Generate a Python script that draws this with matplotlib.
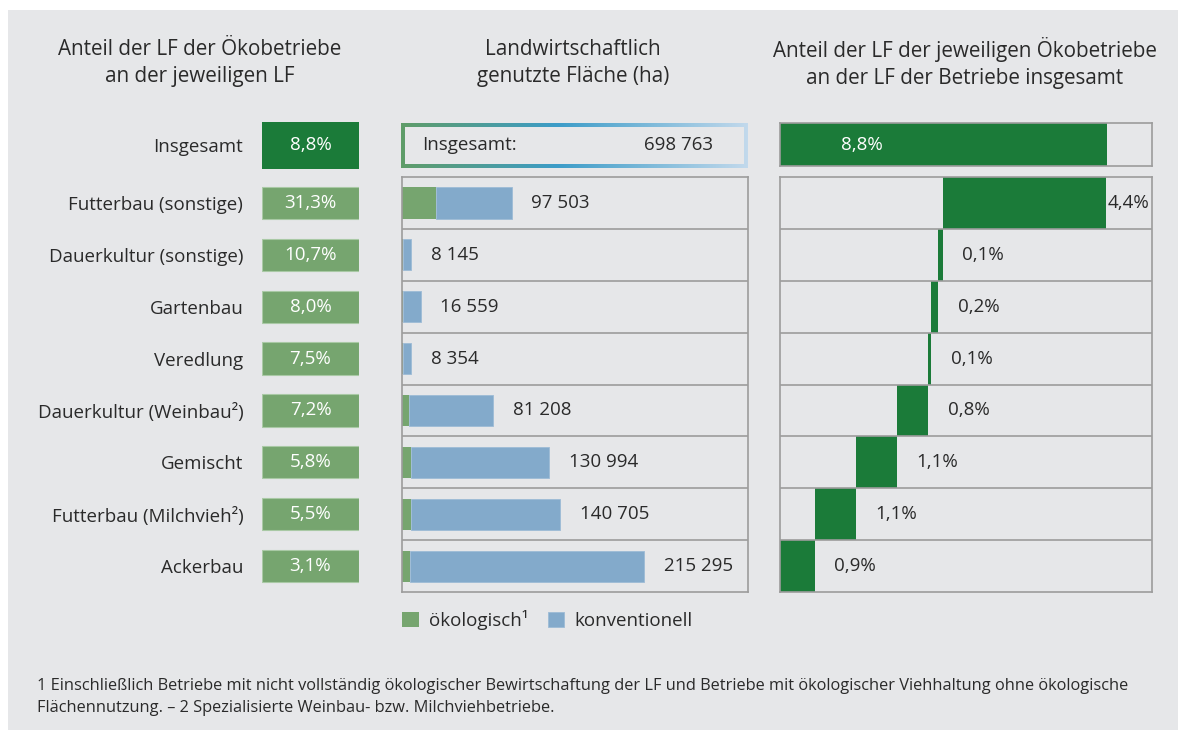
import matplotlib
matplotlib.use("Agg")
import matplotlib.pyplot as plt
import numpy as np
from matplotlib.patches import Rectangle
from matplotlib.colors import LinearSegmentedColormap

# ---------------- data ----------------
categories = ["Futterbau (sonstige)", "Dauerkultur (sonstige)", "Gartenbau", "Veredlung",
              "Dauerkultur (Weinbau²)", "Gemischt", "Futterbau (Milchvieh²)", "Ackerbau"]
eco_share_pct = [31.3, 10.7, 8.0, 7.5, 7.2, 5.8, 5.5, 3.1]          # left column
total_ha = [97503, 8145, 16559, 8354, 81208, 130994, 140705, 215295]  # middle column
share_of_total_pct = [4.37, 0.12, 0.19, 0.09, 0.84, 1.09, 1.11, 0.94]  # right column
total_label = "Insgesamt"
total_eco_pct = 8.8
total_area_ha = 698763
legend_labels = ["ökologisch¹", "konventionell"]
titles = ["Anteil der LF der Ökobetriebe\nan der jeweiligen LF",
          "Landwirtschaftlich\ngenutzte Fläche (ha)",
          "Anteil der LF der jeweiligen Ökobetriebe\nan der LF der Betriebe insgesamt"]
footnote = ("1 Einschließlich Betriebe mit nicht vollständig ökologischer Bewirtschaftung der LF und "
            "Betriebe mit ökologischer Viehhaltung ohne ökologische\n"
            "Flächennutzung. – 2 Spezialisierte Weinbau- bzw. Milchviehbetriebe.")

# ---------------- style ----------------
W, H = 1178, 733
BG = "#e6e7e9"
DARK_GREEN = "#1b7b39"
LIGHT_GREEN = "#76a56f"
BLUE = "#83aacb"
GRID = "#9c9c9c"
TXT = "#2a2a2a"
FONT = "Open Sans"
FS = 13.5

plt.rcParams["font.family"] = [FONT, "DejaVu Sans"]

fig = plt.figure(figsize=(W / 100, H / 100), dpi=100)
fig.patch.set_facecolor("white")
fig.patches.append(Rectangle((8 / W, 1 - 730 / H), (W - 8) / W, (730 - 10) / H,
                             transform=fig.transFigure, facecolor=BG, edgecolor="none", zorder=-10))


def px_axes(x0, y0, x1, y1):
    ax = fig.add_axes([x0 / W, 1 - y1 / H, (x1 - x0) / W, (y1 - y0) / H])
    ax.set_facecolor("none")
    return ax


def frame(ax, color=GRID, lw=1.2):
    for s in ax.spines.values():
        s.set_color(color)
        s.set_linewidth(lw)
    ax.set_xticks([])
    ax.set_yticks([])


n = len(categories)
ypos = np.arange(n) + 0.5
ROW_TOP, ROW_BOT = 177, 592
TOT_TOP, TOT_BOT = 123, 168

# ---------------- titles ----------------
for xc, t in zip([200, 573, 965], titles):
    fig.text(xc / W, 1 - 63 / H, t, ha="center", va="center", fontsize=14.9, color=TXT,
             linespacing=1.4)

# ---------------- left panel ----------------
axl = px_axes(262, ROW_TOP, 359, ROW_BOT)
axl.set_xlim(0, 1)
axl.set_ylim(n, 0)
axl.barh(ypos, [1] * n, height=0.62, color=LIGHT_GREEN, edgecolor="#a9c9a5", linewidth=0.8)
for y, p in zip(ypos, eco_share_pct):
    axl.text(0.5, y, f"{p:.1f}%".replace(".", ","), ha="center", va="center",
             color="white", fontsize=FS)
axl.set_yticks(ypos, categories)
axl.set_xticks([])
axl.tick_params(axis="y", length=0, pad=13.5, labelsize=FS, labelcolor=TXT)
for s in axl.spines.values():
    s.set_visible(False)

axli = px_axes(262, 122, 359, 169)
axli.set_xlim(0, 1)
axli.set_ylim(0, 1)
axli.barh([0.5], [1], height=1.0, color=DARK_GREEN)
axli.text(0.5, 0.5, f"{total_eco_pct:.1f}%".replace(".", ","), ha="center", va="center",
          color="white", fontsize=FS)
axli.set_yticks([0.5], [total_label])
axli.set_xticks([])
axli.tick_params(axis="y", length=0, pad=13.5, labelsize=FS, labelcolor=TXT)
for s in axli.spines.values():
    s.set_visible(False)

# ---------------- middle panel ----------------
XMAX_M = 307500
axm = px_axes(402, ROW_TOP, 748, ROW_BOT)
axm.set_xlim(0, XMAX_M)
axm.set_ylim(n, 0)
eco_ha = [t * p / 100 for t, p in zip(total_ha, eco_share_pct)]
conv_ha = [t - e for t, e in zip(total_ha, eco_ha)]
axm.barh(ypos, eco_ha, height=0.6, color=LIGHT_GREEN, label=legend_labels[0])
axm.barh(ypos, conv_ha, left=eco_ha, height=0.6, color=BLUE, label=legend_labels[1],
         edgecolor="#9dbbd6", linewidth=0.6)
for y, t in zip(ypos, total_ha):
    axm.annotate(f"{t:,}".replace(",", " "), (t, y), xytext=(14, 0),
                 textcoords="offset points", ha="left", va="center", fontsize=FS, color=TXT)
for k in range(1, n):
    axm.axhline(k, color=GRID, lw=1.2)
frame(axm)

leg = axm.legend(loc="upper left", bbox_to_anchor=(402 / W, 1 - 610 / H),
                 bbox_transform=fig.transFigure, ncol=2, frameon=False, fontsize=FS,
                 handlelength=0.88, handleheight=0.88, handletextpad=0.55,
                 columnspacing=1.05, borderpad=0, borderaxespad=0)
for t in leg.get_texts():
    t.set_color(TXT)

# gradient-bordered total box
axmi = px_axes(401, TOT_TOP, 748, TOT_BOT)
axmi.set_xlim(0, 1)
axmi.set_ylim(0, 1)
cmap = LinearSegmentedColormap.from_list(
    "g", [(0, "#5f9d68"), (0.45, "#3c9cc8"), (1, "#c2d9ec")])
grad = np.linspace(0, 1, 256).reshape(1, -1)
axmi.imshow(grad, cmap=cmap, extent=(0, 1, 0, 1), aspect="auto", zorder=1)
bw, bh = 4 / (748 - 401), 4 / (TOT_BOT - TOT_TOP)
axmi.add_patch(Rectangle((bw, bh), 1 - 2 * bw, 1 - 2 * bh, facecolor=BG, edgecolor="none", zorder=2))
axmi.text(21 / 347, 0.5, total_label + ":", ha="left", va="center", fontsize=FS, color=TXT, zorder=3)
axmi.text(312 / 347, 0.5, f"{total_area_ha:,}".replace(",", " "), ha="right", va="center",
          fontsize=FS, color=TXT, zorder=3)
axmi.set_xticks([])
axmi.set_yticks([])
for s in axmi.spines.values():
    s.set_visible(False)

# ---------------- right panel ----------------
XMAX_R = 10.0
axr = px_axes(780, ROW_TOP, 1152, ROW_BOT)
axr.set_xlim(0, XMAX_R)
axr.set_ylim(n, 0)
shares = np.array(share_of_total_pct)
lefts = np.cumsum(shares[::-1])[::-1] - shares
axr.barh(ypos, shares, left=lefts, height=1.0, color=DARK_GREEN)
for y, l, s in zip(ypos, lefts, shares):
    end = l + s
    off = 1.5 if end > 0.85 * XMAX_R else 14
    axr.annotate(f"{s:.1f}%".replace(".", ","), (end, y), xytext=(off, 0),
                 textcoords="offset points", ha="left", va="center", fontsize=FS, color=TXT)
for k in range(1, n):
    axr.axhline(k, color=GRID, lw=1.2)
frame(axr)

axri = px_axes(780, TOT_TOP, 1152, 166)
axri.set_xlim(0, XMAX_R)
axri.set_ylim(0, 1)
axri.barh([0.5], [total_eco_pct], height=1.0, color=DARK_GREEN)
axri.text(61 / 372 * XMAX_R, 0.5, f"{total_eco_pct:.1f}%".replace(".", ","), ha="left",
          va="center", color="white", fontsize=FS)
frame(axri)

# ---------------- footnote ----------------
fig.text(37 / W, 1 - 697 / H, footnote, ha="left", va="center", fontsize=11.8, color=TXT,
         linespacing=1.55)

fig.savefig("out.png", dpi=100, facecolor=fig.get_facecolor())
